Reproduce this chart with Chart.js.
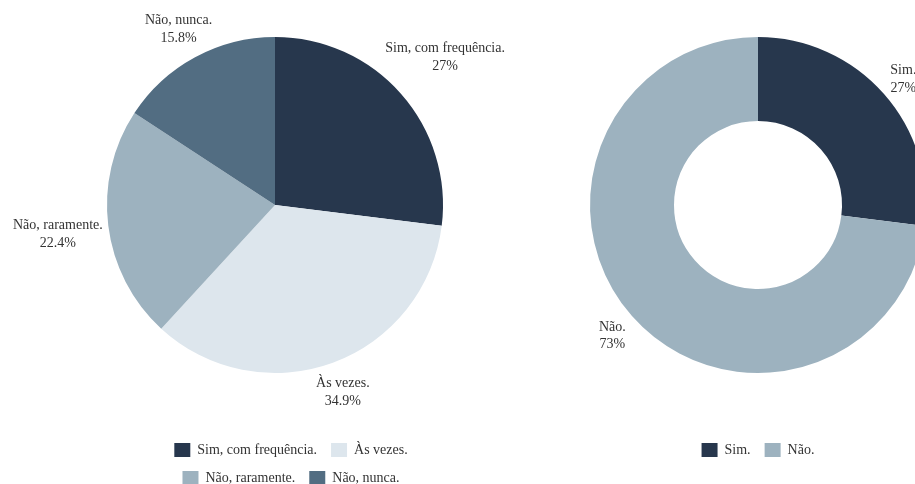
<!DOCTYPE html>
<html>
<head>
<meta charset="utf-8">
<script src="https://cdn.jsdelivr.net/npm/chart.js@4"></script>
<style>
  html, body { margin: 0; padding: 0; background: #fff; overflow: hidden; width: 915px; height: 484px; }
  .box { position: absolute; top: -30px; width: 550px; height: 525px; }
  #leftBox { left: 0; }
  #rightBox { left: 483px; }
</style>
</head>
<body>
<div class="box" id="leftBox"><canvas id="freqChart" width="550" height="525"></canvas></div>
<div class="box" id="rightBox"><canvas id="yesNoChart" width="550" height="525"></canvas></div>
<script>
const freqLabels = ['Sim, com frequência.', 'Às vezes.', 'Não, raramente.', 'Não, nunca.'];
const freqValues = [27, 34.9, 22.4, 15.8];
const freqColors = ['#27374D', '#DDE6ED', '#9DB2BF', '#526D82'];

const yesNoLabels = ['Sim.', 'Não.'];
const yesNoValues = [27, 73];
const yesNoColors = ['#27374D', '#9DB2BF'];

Chart.defaults.font.family = '"Liberation Serif", "Times New Roman", serif';
Chart.defaults.font.size = 14;
Chart.defaults.color = '#333';

// label + percentage written outside each slice
const outerLabels = {
  id: 'outerLabels',
  afterDatasetsDraw(chart) {
    const ctx = chart.ctx;
    const meta = chart.getDatasetMeta(0);
    const values = chart.data.datasets[0].data;
    const lh = 17.5;
    ctx.save();
    ctx.font = '14px "Liberation Serif", serif';
    ctx.fillStyle = '#333';
    ctx.textAlign = 'center';
    ctx.textBaseline = 'middle';
    meta.data.forEach((arc, i) => {
      const p = arc.getProps(['x', 'y', 'startAngle', 'endAngle', 'outerRadius'], true);
      const mid = (p.startAngle + p.endAngle) / 2;
      const lines = [chart.data.labels[i], values[i] + '%'];
      const w = Math.max(...lines.map(t => ctx.measureText(t).width));
      const h = lines.length * lh;
      const target = p.outerRadius + 4.5;
      const cos = Math.cos(mid), sin = Math.sin(mid);
      // slide the text box out along the mid angle until it clears the arc
      let lo = 0, hi = p.outerRadius + 300;
      for (let k = 0; k < 40; k++) {
        const d = (lo + hi) / 2;
        const nx = Math.max(0, Math.abs(cos * d) - w / 2);
        const ny = Math.max(0, Math.abs(sin * d) - h / 2);
        if (Math.hypot(nx, ny) < target) lo = d; else hi = d;
      }
      const cx = p.x + cos * hi, cy = p.y + sin * hi + 2.5;
      lines.forEach((t, j) => ctx.fillText(t, cx, cy - h / 2 + lh / 2 + j * lh));
    });
    ctx.restore();
  }
};

// nudge the legend sideways without moving the pie
const legendShift = {
  id: 'legendShift',
  afterLayout(chart, args, opts) {
    const dx = opts.dx || 0;
    chart.legend.left += dx;
    chart.legend.right += dx;
  }
};

const legendOpts = {
  position: 'bottom',
  labels: { boxWidth: 16, boxHeight: 14, padding: 14, color: '#333' }
};

new Chart(document.getElementById('freqChart'), {
  type: 'pie',
  data: {
    labels: freqLabels,
    datasets: [{ data: freqValues, backgroundColor: freqColors, borderWidth: 0, radius: 168 }]
  },
  options: {
    responsive: false,
    animation: false,
    events: [],
    layout: { padding: { top: 11, left: 100, right: 100, bottom: 0 } },
    plugins: { legend: legendOpts, legendShift: { dx: 16 }, tooltip: { enabled: false } }
  },
  plugins: [outerLabels, legendShift]
});

new Chart(document.getElementById('yesNoChart'), {
  type: 'doughnut',
  data: {
    labels: yesNoLabels,
    datasets: [{ data: yesNoValues, backgroundColor: yesNoColors, borderWidth: 0, radius: 168 }]
  },
  options: {
    responsive: false,
    animation: false,
    events: [],
    cutout: '50%',
    layout: { padding: { top: 11, left: 100, right: 100, bottom: 28 } },
    plugins: { legend: legendOpts, tooltip: { enabled: false } }
  },
  plugins: [outerLabels]
});
</script>
</body>
</html>
